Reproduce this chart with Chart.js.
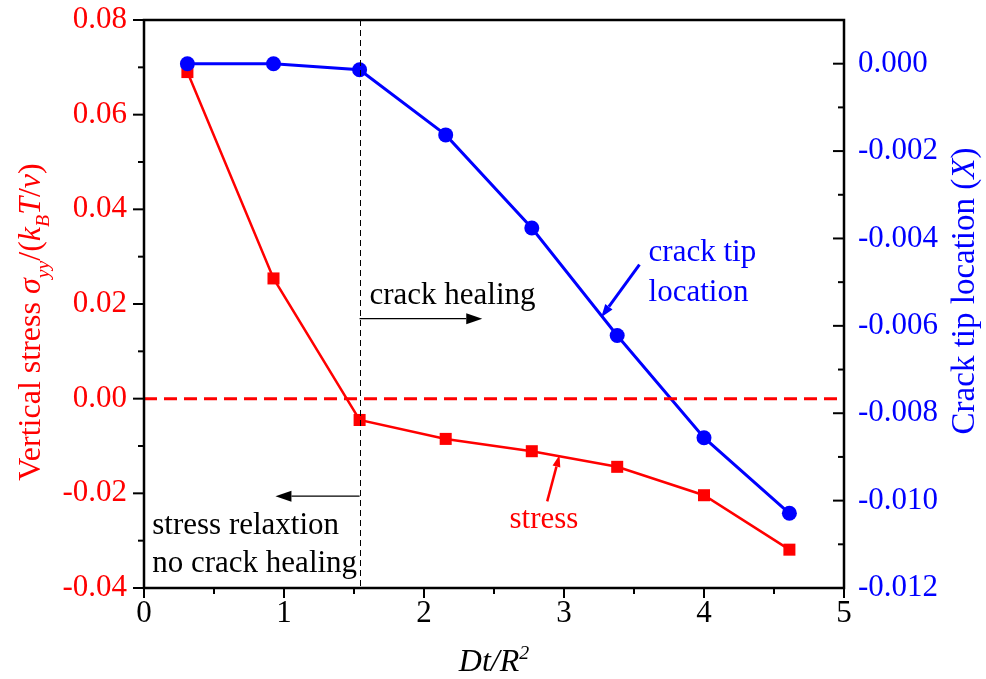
<!DOCTYPE html>
<html>
<head>
<meta charset="utf-8">
<title>Stress relaxation and crack healing</title>
<script src="https://cdn.jsdelivr.net/npm/chart.js@4/dist/chart.umd.min.js"></script>
<style>
  html, body { margin: 0; padding: 0; background: #fff; }
  #wrap { width: 986px; height: 679px; position: relative; }
</style>
</head>
<body>
<div id="wrap"><canvas id="chartCanvas"></canvas></div>
<script>
// Dt/R^2 sample times
const timeSteps = [0.31, 0.925, 1.54, 2.155, 2.77, 3.38, 4.0, 4.61];
// vertical stress sigma_yy/(kB T/v)
const stressValues = [0.069, 0.0254, -0.0045, -0.0085, -0.0111, -0.0144, -0.0204, -0.0319];
// crack tip location X
const tipValues = [0.0, 0.0, -0.00014, -0.00163, -0.00376, -0.00622, -0.00856, -0.01029];

const xTicks = [0, 1, 2, 3, 4, 5];
const stressTicks = [-0.04, -0.02, 0, 0.02, 0.04, 0.06, 0.08];
const tipTicks = [-0.012, -0.010, -0.008, -0.006, -0.004, -0.002, 0];

// time where healing starts (dashed separator)
const healingOnset = 1.54;

const FONT = "'Liberation Serif', 'Times New Roman', serif";
const RED = '#ff0000';
const BLUE = '#0000ff';

// text notes, in x / stress-axis units
const notes = [
    { text: 'crack healing', x: 1.61, y: 0.0201, color: '#000' },
    { text: 'stress relaxtion', x: 0.059, y: -0.0286, color: '#000' },
    { text: 'no crack healing', x: 0.059, y: -0.0367, color: '#000' },
    { text: 'crack tip', x: 3.604, y: 0.0291, color: BLUE },
    { text: 'location', x: 3.604, y: 0.0207, color: BLUE },
    { text: 'stress', x: 2.611, y: -0.0274, color: RED }
];

const arrows = [
    { from: [1.54, 0.0169], to: [2.416, 0.0169], color: '#000', width: 1.3, head: 16, half: 5.5 },
    { from: [1.54, -0.0206], to: [0.939, -0.0206], color: '#000', width: 1.3, head: 16, half: 5.5 },
    { from: [3.539, 0.0283], to: [3.266, 0.0172], color: BLUE, width: 3, head: 13, half: 4.5 },
    { from: [2.88, -0.0217], to: [2.968, -0.0119], color: RED, width: 2.5, head: 12, half: 4 }
];

function fmt(v, digits) {
    if (Math.abs(v) < 1e-9) v = 0;
    return v.toFixed(digits);
}

function midpoints(arr) {
    const out = [];
    for (let i = 0; i < arr.length - 1; i++) out.push((arr[i] + arr[i + 1]) / 2);
    return out;
}

function line(ctx, x1, y1, x2, y2) {
    ctx.beginPath();
    ctx.moveTo(x1, y1);
    ctx.lineTo(x2, y2);
    ctx.stroke();
}

function drawArrow(ctx, x1, y1, x2, y2, a) {
    const ang = Math.atan2(y2 - y1, x2 - x1);
    const bx = x2 - a.head * Math.cos(ang);
    const by = y2 - a.head * Math.sin(ang);
    ctx.strokeStyle = a.color;
    ctx.fillStyle = a.color;
    ctx.lineWidth = a.width;
    line(ctx, x1, y1, bx, by);
    ctx.beginPath();
    ctx.moveTo(x2, y2);
    ctx.lineTo(bx + a.half * Math.sin(ang), by - a.half * Math.cos(ang));
    ctx.lineTo(bx - a.half * Math.sin(ang), by + a.half * Math.cos(ang));
    ctx.closePath();
    ctx.fill();
}

// text made of pieces, some italic, some sub/superscript
function drawRich(ctx, parts, x, y, size, color) {
    let total = 0;
    const items = parts.map(p => {
        const s = (p.sub || p.sup) ? size * 0.62 : size;
        const font = (p.italic ? 'italic ' : '') + s + 'px ' + FONT;
        ctx.font = font;
        const w = ctx.measureText(p.t).width;
        total += w;
        return { t: p.t, sub: p.sub, sup: p.sup, font: font, w: w };
    });
    let cx = x - total / 2;
    ctx.fillStyle = color;
    ctx.textAlign = 'left';
    ctx.textBaseline = 'alphabetic';
    items.forEach(p => {
        ctx.font = p.font;
        const dy = p.sub ? size * 0.28 : (p.sup ? -size * 0.38 : 0);
        ctx.fillText(p.t, cx, y + dy);
        cx += p.w;
    });
}

const decor = {
    id: 'decor',
    afterDatasetsDraw(chart) {
        const { ctx, chartArea: a, scales } = chart;
        const xs = scales.x, ys = scales.yStress;
        ctx.save();

        // zero stress reference
        const y0 = ys.getPixelForValue(0);
        ctx.strokeStyle = RED;
        ctx.lineWidth = 3;
        ctx.setLineDash([13, 7]);
        line(ctx, a.left, y0, a.right, y0);

        // healing onset separator
        const xo = Math.round(xs.getPixelForValue(healingOnset)) + 0.5;
        ctx.strokeStyle = '#000';
        ctx.lineWidth = 1;
        ctx.setLineDash([6, 4]);
        line(ctx, xo, a.top, xo, a.bottom);
        ctx.setLineDash([]);

        arrows.forEach(ar => {
            drawArrow(ctx,
                xs.getPixelForValue(ar.from[0]), ys.getPixelForValue(ar.from[1]),
                xs.getPixelForValue(ar.to[0]), ys.getPixelForValue(ar.to[1]), ar);
        });

        ctx.font = '31px ' + FONT;
        ctx.textAlign = 'left';
        ctx.textBaseline = 'alphabetic';
        notes.forEach(n => {
            ctx.fillStyle = n.color;
            ctx.fillText(n.text, xs.getPixelForValue(n.x), ys.getPixelForValue(n.y));
        });
        ctx.restore();
    },
    afterDraw(chart) {
        const { ctx, chartArea: a, scales } = chart;
        const xs = scales.x, ys = scales.yStress, yt = scales.yTip;
        ctx.save();
        ctx.strokeStyle = '#000';
        ctx.lineWidth = 2.5;
        ctx.strokeRect(a.left, a.top, a.right - a.left, a.bottom - a.top);

        ctx.lineWidth = 2;
        stressTicks.forEach(v => { const p = ys.getPixelForValue(v); line(ctx, a.left - 11, p, a.left, p); });
        midpoints(stressTicks).forEach(v => { const p = ys.getPixelForValue(v); line(ctx, a.left - 6, p, a.left, p); });
        tipTicks.forEach(v => { const p = yt.getPixelForValue(v); line(ctx, a.right - 11, p, a.right, p); });
        midpoints(tipTicks).forEach(v => { const p = yt.getPixelForValue(v); line(ctx, a.right - 6, p, a.right, p); });
        xTicks.forEach(v => { const p = xs.getPixelForValue(v); line(ctx, p, a.bottom, p, a.bottom + 10); });
        midpoints(xTicks).forEach(v => { const p = xs.getPixelForValue(v); line(ctx, p, a.bottom, p, a.bottom + 6); });

        // axis titles
        drawRich(ctx, [{ t: 'Dt/R', italic: true }, { t: '2', italic: true, sup: true }],
            (a.left + a.right) / 2, 671, 32, '#000');

        ctx.save();
        ctx.translate(40, 322);
        ctx.rotate(-Math.PI / 2);
        drawRich(ctx, [
            { t: 'Vertical stress ' },
            { t: 'σ', italic: true },
            { t: 'yy', italic: true, sub: true },
            { t: '/(' },
            { t: 'k', italic: true },
            { t: 'B', italic: true, sub: true },
            { t: 'T', italic: true },
            { t: '/' },
            { t: 'v', italic: true },
            { t: ')' }
        ], 0, 0, 32, RED);
        ctx.restore();

        ctx.save();
        ctx.translate(974, 291);
        ctx.rotate(-Math.PI / 2);
        drawRich(ctx, [
            { t: 'Crack tip location (' },
            { t: 'X', italic: true },
            { t: ')' }
        ], 0, 0, 33, BLUE);
        ctx.restore();

        ctx.restore();
    }
};

const tickFont = { family: FONT, size: 31 };

// fixed axis box sizes so the plot frame lands where it should
function fixWidth(w) {
    return s => {
        s.width = w;
        s.paddingTop = 0;
        s.paddingBottom = 0;
    };
}

const ctx = document.getElementById('chartCanvas').getContext('2d');
window.chart = new Chart(ctx, {
    type: 'line',
    data: {
        datasets: [
            {
                label: 'crack tip location',
                data: timeSteps.map((t, i) => ({ x: t, y: tipValues[i] })),
                yAxisID: 'yTip',
                order: 0,
                borderColor: BLUE,
                backgroundColor: BLUE,
                borderWidth: 3,
                pointStyle: 'circle',
                pointRadius: 7.5,
                pointBorderWidth: 0,
                tension: 0
            },
            {
                label: 'stress',
                data: timeSteps.map((t, i) => ({ x: t, y: stressValues[i] })),
                yAxisID: 'yStress',
                order: 1,
                borderColor: RED,
                backgroundColor: RED,
                borderWidth: 2.5,
                pointStyle: 'rect',
                pointRadius: 8.5,
                pointBorderWidth: 0,
                tension: 0
            }
        ]
    },
    options: {
        responsive: true,
        maintainAspectRatio: false,
        animation: false,
        layout: { padding: { top: 20, left: 0, right: 0, bottom: 0 } },
        plugins: {
            legend: { display: false },
            tooltip: { enabled: false }
        },
        scales: {
            x: {
                type: 'linear',
                min: 0,
                max: 5,
                grid: { display: false, drawTicks: false },
                border: { display: false },
                afterBuildTicks: s => { s.ticks = xTicks.map(v => ({ value: v })); },
                afterFit: s => { s.height = 91; s.paddingLeft = 0; s.paddingRight = 0; },
                ticks: { font: tickFont, color: '#000', padding: 7, maxRotation: 0, callback: v => String(v) }
            },
            yStress: {
                type: 'linear',
                position: 'left',
                min: -0.04,
                max: 0.08,
                grid: { display: false, drawTicks: false },
                border: { display: false },
                afterBuildTicks: s => { s.ticks = stressTicks.map(v => ({ value: v })); },
                afterFit: fixWidth(144),
                ticks: { font: tickFont, color: RED, padding: 17, callback: v => fmt(v, 2) }
            },
            yTip: {
                type: 'linear',
                position: 'right',
                min: -0.012,
                max: 0.001,
                grid: { display: false, drawTicks: false },
                border: { display: false },
                afterBuildTicks: s => { s.ticks = tipTicks.map(v => ({ value: v })); },
                afterFit: fixWidth(142),
                ticks: { font: tickFont, color: BLUE, padding: 14, callback: v => fmt(v, 3) }
            }
        }
    },
    plugins: [decor]
});
</script>
</body>
</html>
